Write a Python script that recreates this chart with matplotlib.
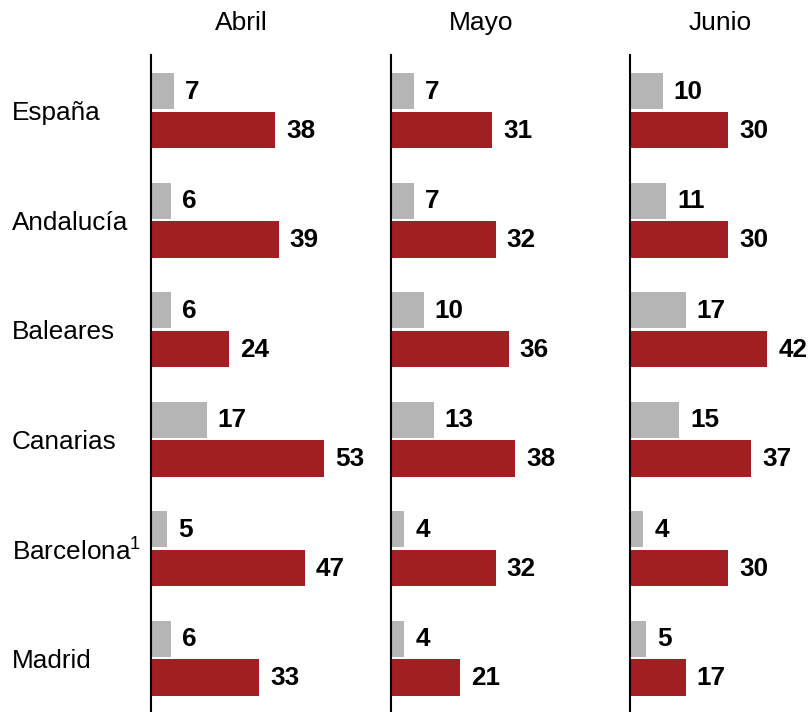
import numpy as np
import matplotlib
matplotlib.use("Agg")
import matplotlib.pyplot as plt

plt.rcParams['font.family'] = ['Liberation Sans', 'DejaVu Sans']
plt.rcParams['mathtext.fontset'] = 'custom'
plt.rcParams['mathtext.rm'] = 'Liberation Sans'

regions = ["España", "Andalucía", "Baleares", "Canarias", "Barcelona$^1$", "Madrid"]
months = ["Abril", "Mayo", "Junio"]
grey_vals = {
    "Abril": [7, 6, 6, 17, 5, 6],
    "Mayo": [7, 7, 10, 13, 4, 4],
    "Junio": [10, 11, 17, 15, 4, 5],
}
red_vals = {
    "Abril": [38, 39, 24, 53, 47, 33],
    "Mayo": [31, 32, 36, 38, 32, 21],
    "Junio": [30, 30, 42, 37, 30, 17],
}

grey = "#B5B5B5"
red = "#A11F23"
W, H = 810, 712
fig = plt.figure(figsize=(W / 100, H / 100), dpi=100)

lefts = [151, 391, 630]
ypos = np.arange(len(regions))
for k, month in enumerate(months):
    ax = fig.add_axes([lefts[k] / W, 0, 240 / W, 657 / H])
    ax.barh(ypos + 0.33, grey_vals[month], height=0.33, color=grey)
    ax.barh(ypos + 0.685, red_vals[month], height=0.33, color=red)
    for i in range(len(regions)):
        ax.annotate(str(grey_vals[month][i]), (grey_vals[month][i], i + 0.335),
                    xytext=(8, 0), textcoords="offset points", va="center",
                    ha="left", fontsize=18.8, fontweight="bold")
        ax.annotate(str(red_vals[month][i]), (red_vals[month][i], i + 0.69),
                    xytext=(8, 0), textcoords="offset points", va="center",
                    ha="left", fontsize=18.8, fontweight="bold")
    ax.set_xlim(0, 73.4)
    ax.set_ylim(6, 0)
    for s in ["top", "right", "bottom"]:
        ax.spines[s].set_visible(False)
    ax.spines["left"].set_linewidth(1.5)
    ax.spines["left"].set_color("black")
    ax.set_xticks([])
    ax.set_yticks([])
    fig.text((lefts[k] + 90) / W, 1 - 23 / H, month, ha="center", va="center",
             fontsize=19)
    if k == 0:
        for i, r in enumerate(regions):
            ax.text(-139 / 240 * 73.4, i + 0.53, r, ha="left", va="center",
                    fontsize=18.8)

fig.savefig("out.png", dpi=100)
